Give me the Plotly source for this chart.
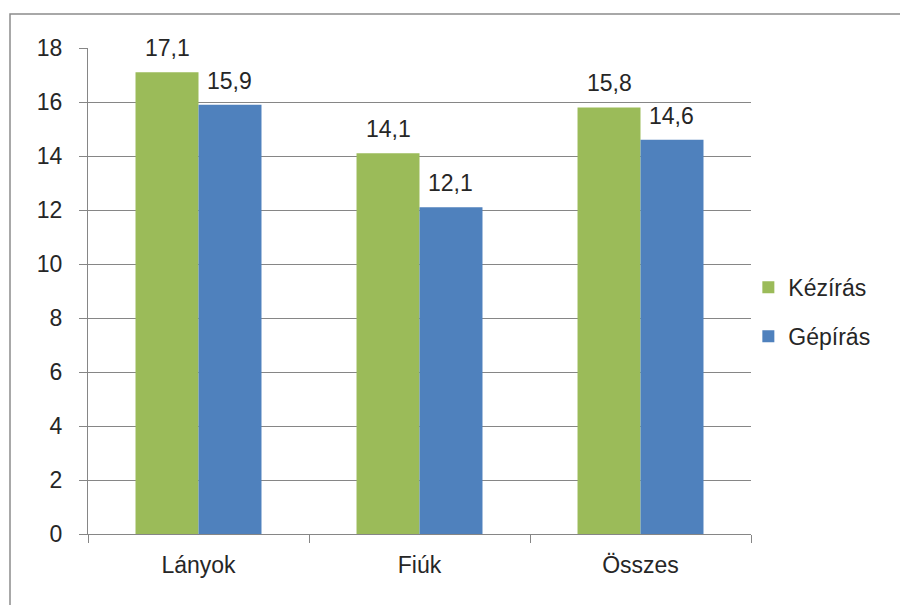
import plotly.graph_objects as go

# Átlagos írássebesség csoportonként
categories = ["Lányok", "Fiúk", "Összes"]
kezi_values = [17.1, 14.1, 15.8]
gepi_values = [15.9, 12.1, 14.6]
series_names = ["Kézírás", "Gépírás"]
y_ticks = [0, 2, 4, 6, 8, 10, 12, 14, 16, 18]

GREEN = "#9BBB59"
BLUE = "#4F81BD"
GRID = "#868686"
TEXT = "#262626"
FONT = "Liberation Sans, Arial, sans-serif"

W, H = 900, 605
ML, MR, MT, MB = 88, 149, 48, 71
PW = W - ML - MR
PH = H - MT - MB


def fmt(v):
    return f"{v:.1f}".replace(".", ",")


fig = go.Figure()
fig.add_trace(go.Bar(
    x=categories, y=kezi_values, name=series_names[0],
    marker=dict(color=GREEN, line=dict(width=0)),
    legendgroup="a",
))
fig.add_trace(go.Bar(
    x=categories, y=gepi_values, name=series_names[1],
    marker=dict(color=BLUE, line=dict(width=0)),
    legendgroup="b",
))

# Értékcímkék az oszlopok fölött
bar_px = PW / len(categories) * (1 - 0.43) / 2
for vals, shift in ((kezi_values, -bar_px / 2), (gepi_values, bar_px / 2)):
    for c, v in zip(categories, vals):
        fig.add_annotation(
            x=c, y=v, text=fmt(v), showarrow=False,
            xshift=shift, yshift=9, yanchor="bottom", xanchor="center",
            font=dict(family=FONT, size=23, color=TEXT),
        )

# Diagram kerete (bal és felső él látszik)
fig.add_shape(
    type="rect", xref="paper", yref="paper",
    x0=(10 - ML) / PW, x1=(W + 10 - ML) / PW,
    y0=-(H + 10 - MT - PH) / PH, y1=1 + (MT - 14) / PH,
    line=dict(color="#8C8C8C", width=1.5), fillcolor="rgba(0,0,0,0)",
    layer="below",
)

fig.update_layout(
    width=W, height=H,
    margin=dict(l=ML, r=MR, t=MT, b=MB),
    paper_bgcolor="white", plot_bgcolor="white",
    barmode="group", bargap=0.43, bargroupgap=0,
    font=dict(family=FONT, size=23, color=TEXT),
    showlegend=True,
    legend=dict(
        x=0.996, xanchor="left", y=0.457, yanchor="middle",
        traceorder="grouped", tracegroupgap=16,
        font=dict(family=FONT, size=23, color=TEXT),
        bgcolor="rgba(0,0,0,0)",
    ),
    xaxis=dict(
        type="category",
        showline=True, linecolor=GRID, linewidth=1,
        ticks="outside", tickson="boundaries", ticklen=8,
        tickcolor=GRID, tickwidth=1,
        showgrid=False,
        ticklabelstandoff=10,
    ),
    yaxis=dict(
        range=[0, 18], tickvals=y_ticks,
        showline=True, linecolor=GRID, linewidth=1,
        ticks="outside", ticklen=8, tickcolor=GRID, tickwidth=1,
        showgrid=True, gridcolor=GRID, gridwidth=1,
        zeroline=False,
        ticklabelstandoff=12,
    ),
)

fig.write_html("out.html")
